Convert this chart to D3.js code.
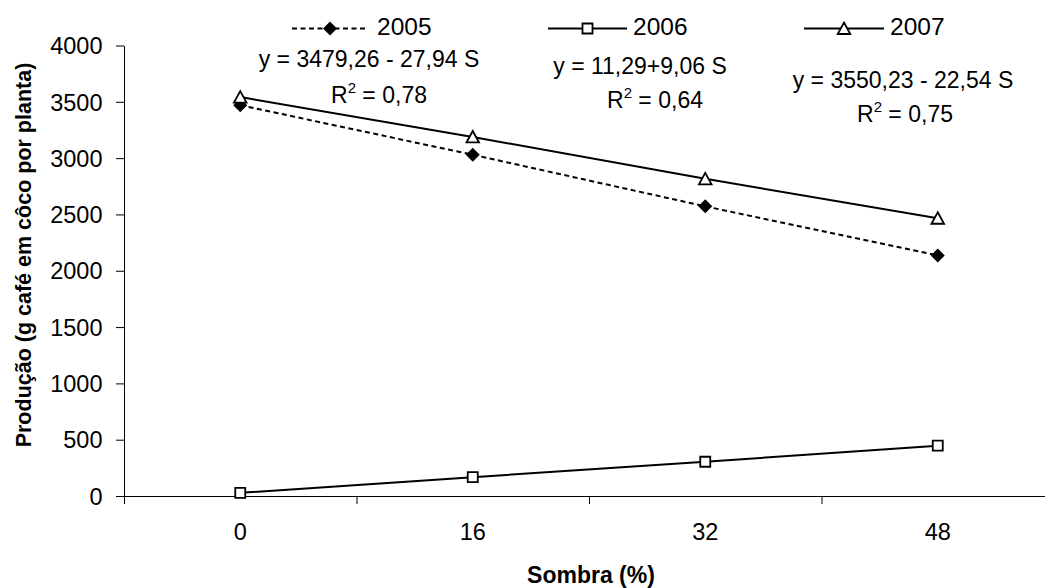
<!DOCTYPE html>
<html>
<head>
<meta charset="utf-8">
<script src="https://cdn.jsdelivr.net/npm/d3@7"></script>
<style>
  html, body { margin: 0; padding: 0; background: #fff; }
  svg { display: block; font-family: "Liberation Sans", Arial, sans-serif; }
</style>
</head>
<body>
<svg id="chart" width="1045" height="588"></svg>
<script>
// Shade levels (%) and coffee yield per plant for each harvest year
const shade = ["0", "16", "32", "48"];
const years = ["2005", "2006", "2007"];
const prod2005 = [3470, 3030, 2572, 2136];
const prod2006 = [28, 167, 304, 447];
const prod2007 = [3542, 3188, 2816, 2466];
const yTicks = [0, 500, 1000, 1500, 2000, 2500, 3000, 3500, 4000];
const equations = ["y = 3479,26 - 27,94 S", "y = 11,29+9,06 S", "y = 3550,23 - 22,54 S"];
const r2Values = ["0,78", "0,64", "0,75"];
const xTitle = "Sombra (%)";
const yTitle = "Produção (g café em côco por planta)";

const svg = d3.select("#chart");
const plotLeft = 124, plotTop = 45.5, plotBottom = 496, step = 232.5;

const x = d3.scaleBand().domain(shade).range([plotLeft, plotLeft + step * shade.length]);
const xc = s => x(s) + x.bandwidth() / 2;
const y = d3.scaleLinear().domain([0, 4000]).range([plotBottom, plotTop]);

const FS = 23.5;

// Y axis
const gy = svg.append("g")
  .attr("transform", `translate(${plotLeft},0)`)
  .call(d3.axisLeft(y).tickValues(yTicks).tickFormat(d3.format("d")).tickSize(8).tickSizeOuter(0));
gy.attr("font-size", FS).attr("font-family", null).attr("color", "#000");
gy.selectAll(".tick text").attr("x", -21.5).attr("dy", "0.35em");

// X axis: boundary ticks between categories
const xb = d3.scaleLinear().domain([0, shade.length]).range([plotLeft, plotLeft + step * shade.length]);
svg.append("g")
  .attr("transform", `translate(0,${plotBottom})`)
  .attr("color", "#000")
  .call(d3.axisBottom(xb).tickValues(d3.range(shade.length + 1)).tickSize(8).tickSizeOuter(0).tickFormat(""));

// X axis: category labels
const gxl = svg.append("g")
  .attr("transform", `translate(0,${plotBottom})`)
  .call(d3.axisBottom(x).tickSize(0).tickSizeOuter(0));
gxl.select(".domain").remove();
gxl.attr("font-size", FS).attr("font-family", null).attr("color", "#000");
gxl.selectAll(".tick text").attr("y", 44).attr("dy", null);

// Axis titles
svg.append("text")
  .attr("x", 591).attr("y", 583)
  .attr("text-anchor", "middle")
  .attr("font-size", 23).attr("font-weight", "bold")
  .text(xTitle);
svg.append("text")
  .attr("transform", "translate(31,255) rotate(-90)")
  .attr("text-anchor", "middle")
  .attr("font-size", 21.5).attr("font-weight", "bold")
  .text(yTitle);

// Series styling
const markerPaths = {
  diamond: "M0,-7L7,0L0,7L-7,0Z",
  square: "M-5,-5H5V5H-5Z",
  triangle: "M0,-6L6.3,5.5L-6.3,5.5Z"
};
const series = [
  { name: years[0], values: prod2005, dash: "5,3.5", marker: "diamond", fill: "#000" },
  { name: years[1], values: prod2006, dash: null, marker: "square", fill: "#fff" },
  { name: years[2], values: prod2007, dash: null, marker: "triangle", fill: "#fff" }
];

const line = d3.line().x((d, i) => xc(shade[i])).y(d => y(d));

series.forEach(s => {
  svg.append("path")
    .attr("d", line(s.values))
    .attr("fill", "none")
    .attr("stroke", "#000")
    .attr("stroke-width", 2)
    .attr("stroke-dasharray", s.dash);
});
series.forEach(s => {
  svg.append("g").selectAll("path")
    .data(s.values)
    .join("path")
    .attr("transform", (d, i) => `translate(${xc(shade[i])},${y(d)})`)
    .attr("d", markerPaths[s.marker])
    .attr("fill", s.fill)
    .attr("stroke", "#000")
    .attr("stroke-width", s.marker === "diamond" ? 0 : 1.8);
});

// Legend
const legendItems = [
  { x0: 292, x1: 368, tx: 377 },
  { x0: 548, x1: 627, tx: 633 },
  { x0: 804, x1: 884, tx: 890 }
];
const ly = 28.5;
series.forEach((s, i) => {
  const L = legendItems[i];
  const g = svg.append("g");
  g.append("line")
    .attr("x1", L.x0).attr("x2", L.x1).attr("y1", ly).attr("y2", ly)
    .attr("stroke", "#000").attr("stroke-width", 2)
    .attr("stroke-dasharray", s.dash);
  g.append("path")
    .attr("transform", `translate(${(L.x0 + L.x1) / 2},${ly})`)
    .attr("d", markerPaths[s.marker])
    .attr("fill", s.fill)
    .attr("stroke", "#000")
    .attr("stroke-width", s.marker === "diamond" ? 0 : 1.8);
  g.append("text")
    .attr("x", L.tx).attr("y", 35)
    .attr("font-size", 24.5)
    .text(s.name);
});

// Regression equations and R²
const eqPos = [
  { ex: 369, ey: 67, rx: 379, ry: 103 },
  { ex: 640, ey: 74, rx: 655, ry: 108 },
  { ex: 903, ey: 88, rx: 905, ry: 122 }
];
equations.forEach((eq, i) => {
  const p = eqPos[i];
  svg.append("text")
    .attr("x", p.ex).attr("y", p.ey)
    .attr("text-anchor", "middle")
    .attr("font-size", 23)
    .text(eq);
  const t = svg.append("text")
    .attr("x", p.rx).attr("y", p.ry)
    .attr("text-anchor", "middle")
    .attr("font-size", 23);
  t.append("tspan").text("R");
  t.append("tspan").attr("dy", -10).attr("font-size", 15).text("2");
  t.append("tspan").attr("dy", 10).text(" = " + r2Values[i]);
});
</script>
</body>
</html>
